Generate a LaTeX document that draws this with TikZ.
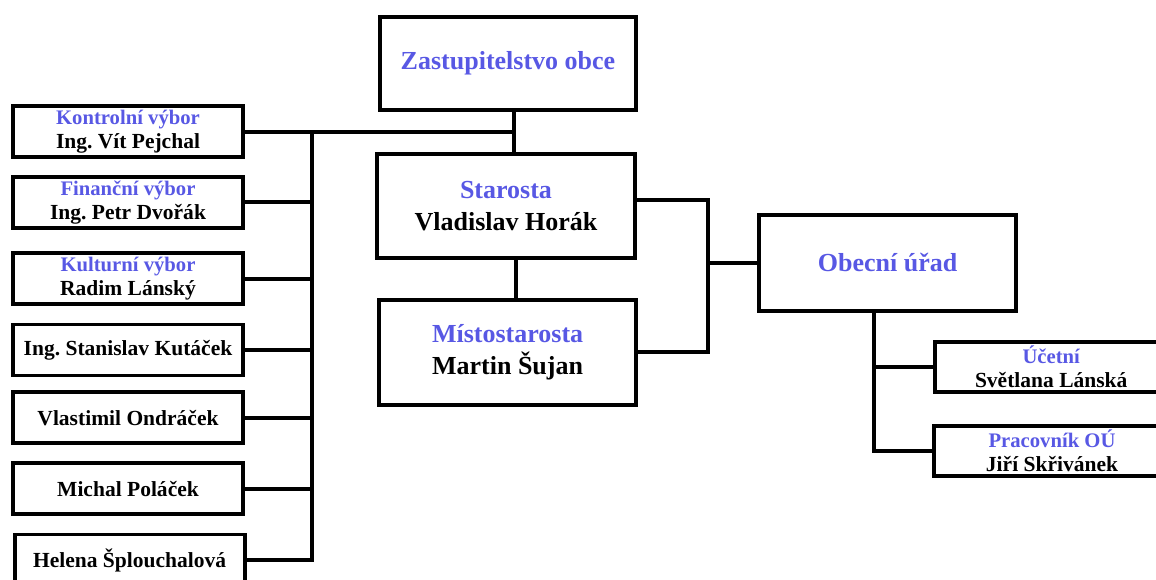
\documentclass[tikz,border=0pt]{standalone}
\usepackage{fontspec}
\setmainfont{Liberation Serif}
\usepackage{tikz}
\usetikzlibrary{calc,positioning}
\frenchspacing

\definecolor{funkce}{RGB}{88,88,228}
\newcommand{\funkce}[1]{{\color{funkce}\fontsize{14.7}{17}\selectfont #1}}

\tikzset{
  box/.style={draw,rectangle,line width=2.8pt,inner sep=0pt,align=center},
  velky/.style={box,font=\fontsize{18.5}{23}\selectfont\bfseries},
  maly/.style={box,font=\fontsize{15.3}{17}\selectfont\bfseries,minimum width=5.75cm,minimum height=1.275cm},
  spoj/.style={line width=2.8pt,line join=miter}
}

\begin{document}
\begin{tikzpicture}
  \useasboundingbox (0,0) rectangle (28.9,14.5);
  % vedeni obce
  \node[velky,minimum width=6.4cm,minimum height=2.325cm] (zastupitelstvo) at (12.7,12.91)
    {\textcolor{funkce}{Zastupitelstvo obce}};
  \node[velky,minimum width=6.45cm,minimum height=2.6cm] (starosta) at (12.65,9.35)
    {\textcolor{funkce}{Starosta}\\Vladislav Horák};
  \node[velky,minimum width=6.425cm,minimum height=2.625cm] (mistostarosta) at (12.69,5.69)
    {\textcolor{funkce}{Místostarosta}\\Martin Šujan};
  \node[velky,minimum width=6.425cm,minimum height=2.4cm] (obecni) at (22.19,7.93)
    {\textcolor{funkce}{Obecní úřad}};
  \node[maly,minimum width=5.8cm,minimum height=1.25cm] (ucetni) at (26.28,5.33)
    {\funkce{Účetní}\\Světlana Lánská};
  \node[maly,minimum width=5.9cm,minimum height=1.25cm] (pracovnik) at (26.3,3.23)
    {\funkce{Pracovník OÚ}\\Jiří Skřivánek};
  % vybory a zastupitele
  \node[maly] (kontrolni) at (3.2,11.21) {\funkce{Kontrolní výbor}\\Ing. Vít Pejchal};
  \node[maly] (financni) at (3.2,9.44) {\funkce{Finanční výbor}\\Ing. Petr Dvořák};
  \node[maly] (kulturni) at (3.2,7.53) {\funkce{Kulturní výbor}\\Radim Lánský};
  \node[maly] (kutacek) at (3.2,5.75) {Ing. Stanislav Kutáček};
  \node[maly] (ondracek) at (3.2,4.06) {Vlastimil Ondráček};
  \node[maly] (polacek) at (3.2,2.28) {Michal Poláček};
  \node[maly] (splouchalova) at (3.24,0.5) {Helena Šplouchalová};

  \coordinate (bus) at (7.8,0);
  \coordinate (zs) at (12.85,0);
  \coordinate (sm) at (12.9,0);
  \coordinate (ob) at (17.7,0);
  \coordinate (ou) at (21.85,0);

  \draw[spoj] (zastupitelstvo.south -| zs) -- (starosta.north -| zs);
  \draw[spoj] (kontrolni.east) -- (kontrolni.east -| zs);
  \draw[spoj] (kontrolni.east -| bus) -- (splouchalova.east -| bus) -- (splouchalova.east);
  \draw[spoj] (financni.east) -- (financni.east -| bus);
  \draw[spoj] (kulturni.east) -- (kulturni.east -| bus);
  \draw[spoj] (kutacek.east) -- (kutacek.east -| bus);
  \draw[spoj] (ondracek.east) -- (ondracek.east -| bus);
  \draw[spoj] (polacek.east) -- (polacek.east -| bus);
  \draw[spoj] (starosta.south -| sm) -- (mistostarosta.north -| sm);
  \draw[spoj] ([yshift=4pt]starosta.east) -| (mistostarosta.east -| ob) -- (mistostarosta.east);
  \draw[spoj] (obecni.west) -- (obecni.west -| ob);
  \draw[spoj] (obecni.south -| ou) |- (pracovnik.west);
  \draw[spoj] (ucetni.west) -- (ucetni.west -| ou);
\end{tikzpicture}
\end{document}
